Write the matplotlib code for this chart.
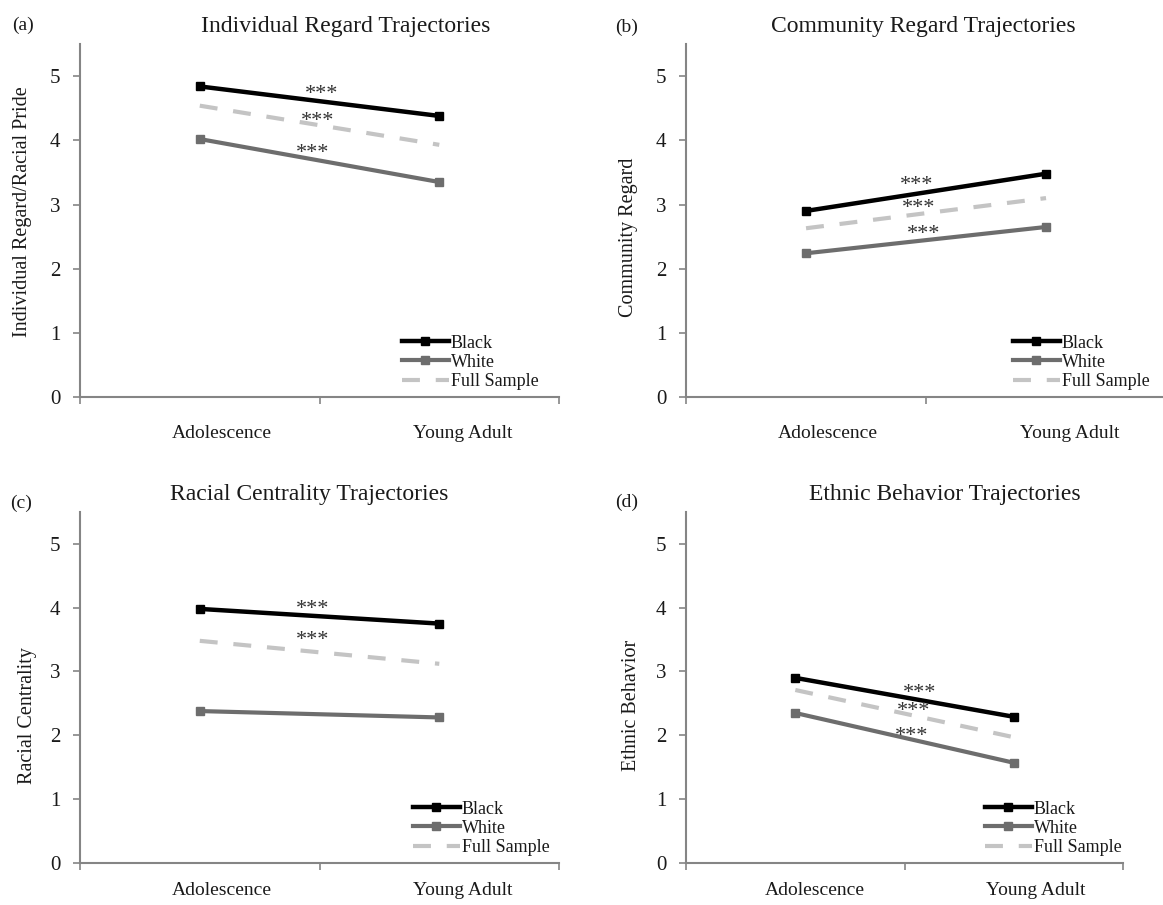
import matplotlib
matplotlib.use("Agg")
import matplotlib.pyplot as plt

plt.rcParams['font.family'] = ['Liberation Serif', 'DejaVu Serif']

# Data
stages = ['Adolescence', 'Young Adult']
series_names = ['Black', 'White', 'Full Sample']

titles = ['Individual Regard Trajectories', 'Community Regard Trajectories',
          'Racial Centrality Trajectories', 'Ethnic Behavior Trajectories']
ylabels = ['Individual Regard/Racial Pride', 'Community Regard',
           'Racial Centrality', 'Ethnic Behavior']
panel_tags = ['(a)', '(b)', '(c)', '(d)']

black_vals = [[4.84, 4.38], [2.90, 3.48], [3.98, 3.75], [2.90, 2.29]]
white_vals = [[4.02, 3.35], [2.24, 2.65], [2.38, 2.28], [2.35, 1.57]]
full_vals = [[4.54, 3.93], [2.63, 3.10], [3.48, 3.12], [2.71, 1.97]]

# significance marks (x, y) per panel
stars = [
    [(1.01, 4.72), (0.99, 4.30), (0.97, 3.80)],
    [(0.96, 3.29), (0.97, 2.93), (0.99, 2.53)],
    [(0.97, 3.97), (0.97, 3.48)],
    [(1.07, 2.66), (1.04, 2.37), (1.03, 1.98)],
]

# layout (figure fractions), tuned to the reference
axes_rects = [
    [0.0688, 0.5613, 0.4119, 0.390],
    [0.5899, 0.5613, 0.4127, 0.390],
    [0.0688, 0.0464, 0.4119, 0.388],
    [0.5899, 0.0464, 0.3758, 0.388],
]
title_x = [0.555, 0.494, 0.478, 0.593]
ylabel_pos = [(-0.100, 0.524), (-0.100, 0.453), (-0.089, 0.42), (-0.103, 0.45)]
tag_pos = [(0.010, 0.972), (0.529, 0.970), (0.009, 0.444), (0.529, 0.445)]
legend_x = [0.672, 0.681, 0.695, 0.684]
xlabel_pad = [20, 20, 14, 14]

fig = plt.figure(figsize=(11.63, 9.05), dpi=100)

x = [0.5, 1.5]
spine_col = '#858585'
text_col = '#1a1a1a'

for i in range(4):
    ax = fig.add_axes(axes_rects[i])
    ax.plot(x, black_vals[i], color='black', lw=3.2, marker='s', ms=6,
            label=series_names[0], zorder=4)
    ax.plot(x, white_vals[i], color='#6d6d6d', lw=3.0, marker='s', ms=6,
            label=series_names[1], zorder=3)
    ax.plot(x, full_vals[i], color='#c4c4c4', lw=3.0, ls=(0, (4.3, 3.8)),
            label=series_names[2], zorder=2)

    for sx, sy in stars[i]:
        ax.text(sx, sy, '***', ha='center', va='center', fontsize=16,
                color='#333333', zorder=5)

    ax.set_xlim(0, 2)
    ax.set_ylim(0, 5.5)
    ax.set_yticks(range(6))
    ax.tick_params(axis='y', length=5, width=1.2, color=spine_col, pad=9,
                   labelsize=15, labelcolor=text_col)
    ax.set_xticks([0.59, 1.60])
    ax.set_xticklabels(stages)
    ax.set_xticks([0, 1, 2], minor=True)
    ax.tick_params(axis='x', which='major', length=0, pad=xlabel_pad[i],
                   labelsize=14, labelcolor=text_col)
    ax.tick_params(axis='x', which='minor', length=5, width=1.2, color=spine_col)

    for side in ['top', 'right']:
        ax.spines[side].set_visible(False)
    for side in ['left', 'bottom']:
        ax.spines[side].set_color(spine_col)
        ax.spines[side].set_linewidth(1.5)

    ax.set_ylabel(ylabels[i], fontsize=14.5, color=text_col)
    ax.yaxis.set_label_coords(*ylabel_pos[i])
    ax.text(title_x[i], 1.05, titles[i], transform=ax.transAxes,
            ha='center', va='center', fontsize=17, color=text_col)
    fig.text(tag_pos[i][0], tag_pos[i][1], panel_tags[i], fontsize=14,
             ha='left', va='center', color=text_col)

    leg = ax.legend(loc='lower left', bbox_to_anchor=(legend_x[i], 0.02),
                    frameon=False, fontsize=13, handlelength=2.6,
                    handletextpad=0.1, labelspacing=0.12, borderpad=0,
                    borderaxespad=0)
    for t in leg.get_texts():
        t.set_color(text_col)

fig.savefig('out.png', dpi=100)
